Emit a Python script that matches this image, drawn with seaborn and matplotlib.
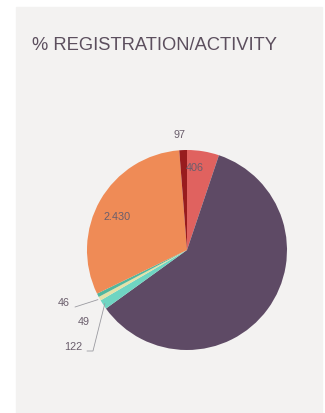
import numpy as np
import seaborn as sns
import matplotlib.pyplot as plt
from matplotlib.patches import Rectangle

sns.set_theme(style="white")
plt.rcParams['font.family'] = ['Liberation Sans Narrow', 'Liberation Sans', 'DejaVu Sans']

# clockwise from 12 o'clock
labels = ["406", "", "122", "49", "46", "2.430", "97"]
values = [406, 4700, 122, 49, 46, 2430, 97]
colors = ["#e0625f", "#5e4a65", "#6fd5c2", "#e4e2a8", "#52b79d", "#ef8b56", "#981c1e"]

text_col = "#6a5e6c"
panel_col = "#f3f2f1"

fig = plt.figure(figsize=(3.25, 4.14), dpi=100)
fig.patch.set_facecolor("white")
fig.patches.append(Rectangle((16 / 325, 0), (322 - 16) / 325, 1 - 8 / 414,
                             transform=fig.transFigure, color=panel_col, zorder=-1))

fig.text(32 / 325, 1 - 45 / 414, "% REGISTRATION/ACTIVITY", fontsize=13.2,
         color="#5c4f5e", va="center", ha="left")

ax = fig.add_axes([87 / 325, 1 - 351 / 414, 200 / 325, 200 / 414])
wedges, _ = ax.pie(values, colors=colors, startangle=90, counterclock=False,
                   radius=1, wedgeprops=dict(linewidth=0))
ax.set_xlim(-1, 1)
ax.set_ylim(-1, 1)
ax.set_aspect("equal")
ax.axis("off")


def edge(i, r=1.0):
    w = wedges[i]
    a = np.deg2rad((w.theta1 + w.theta2) / 2)
    return r * np.cos(a), r * np.sin(a)


fs = 7.8
# labels inside / near slices
ax.text(0.08, 0.83, labels[0], fontsize=fs, color=text_col, ha="center", va="center")
ax.text(-0.70, 0.34, labels[5], fontsize=fs, color=text_col, ha="center", va="center")
ax.text(-0.07, 1.16, labels[6], fontsize=fs, color=text_col, ha="center", va="center",
        clip_on=False)

# small slices with leader lines
line = dict(arrowstyle="-", color="#9a9aa0", lw=0.6, shrinkA=0, shrinkB=0)
ax.annotate(labels[4], xy=edge(4), xytext=(-1.23, -0.52), fontsize=fs,
            color=text_col, ha="center", va="center", annotation_clip=False)
ax.annotate("", xy=edge(3, 1.02), xytext=(-1.12, -0.57),
            arrowprops=line, annotation_clip=False)
ax.annotate(labels[3], xy=edge(3), xytext=(-1.03, -0.71), fontsize=fs,
            color=text_col, ha="center", va="center", annotation_clip=False)
ax.annotate(labels[2], xy=edge(2), xytext=(-1.14, -0.96), fontsize=fs,
            color=text_col, ha="center", va="center", annotation_clip=False)
ax.annotate("", xy=edge(2, 0.98), xytext=(-1.0, -1.01),
            arrowprops=dict(line, connectionstyle="angle,angleA=0,angleB=76,rad=0"),
            annotation_clip=False)

fig.savefig("out.png", dpi=100, facecolor=fig.get_facecolor())
